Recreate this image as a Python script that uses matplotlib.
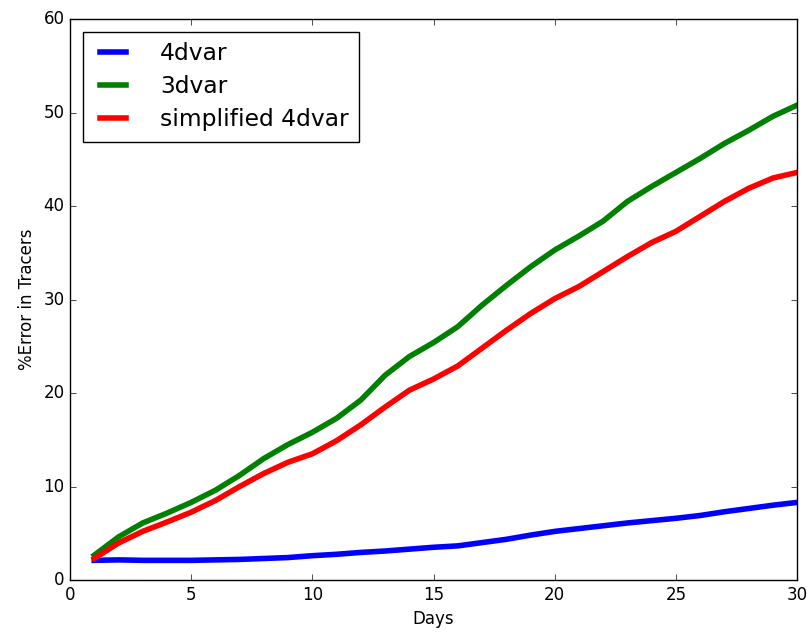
import numpy as np
import matplotlib
matplotlib.use('Agg')
import matplotlib.pyplot as plt

# values
days = np.arange(1, 31)
err_4dvar = [2.1, 2.15, 2.1, 2.1, 2.1, 2.15, 2.2, 2.3, 2.4, 2.6,
             2.75, 2.95, 3.1, 3.3, 3.5, 3.65, 4.0, 4.35, 4.8, 5.2,
             5.5, 5.8, 6.1, 6.35, 6.6, 6.9, 7.3, 7.65, 8.0, 8.3]
err_3dvar = [2.65, 4.6, 6.1, 7.15, 8.3, 9.6, 11.2, 13.0, 14.5, 15.8,
             17.3, 19.25, 21.9, 23.9, 25.4, 27.1, 29.4, 31.5, 33.5, 35.3,
             36.8, 38.4, 40.5, 42.1, 43.6, 45.1, 46.7, 48.1, 49.6, 50.8]
err_s4dvar = [2.3, 3.95, 5.2, 6.2, 7.25, 8.5, 10.0, 11.4, 12.6, 13.5,
              14.9, 16.6, 18.5, 20.3, 21.5, 22.9, 24.8, 26.7, 28.5, 30.1,
              31.4, 33.0, 34.6, 36.1, 37.3, 38.9, 40.5, 41.9, 43.0, 43.6]

plt.style.use('classic')
fig = plt.figure(figsize=(8.08, 6.37), dpi=100, facecolor='white')
ax = fig.add_axes([0.0866, 0.0895, 0.9, 0.8805])

ax.plot(days, err_4dvar, c='b', lw=4, label='4dvar')
ax.plot(days, err_3dvar, c='g', lw=4, label='3dvar')
ax.plot(days, err_s4dvar, c='r', lw=4, label='simplified 4dvar')

ax.set_xlim(0, 30)
ax.set_ylim(0, 60)
ax.set_xlabel('Days', fontsize=12)
ax.set_ylabel('%Error in Tracers', fontsize=12)
ax.tick_params(labelsize=12)

ax.legend(loc='upper left', fontsize=16.8, handlelength=1.7,
          handletextpad=1.15, labelspacing=0.42, borderaxespad=0.55,
          borderpad=0.45)

fig.savefig('out.png', dpi=100, facecolor='white')
